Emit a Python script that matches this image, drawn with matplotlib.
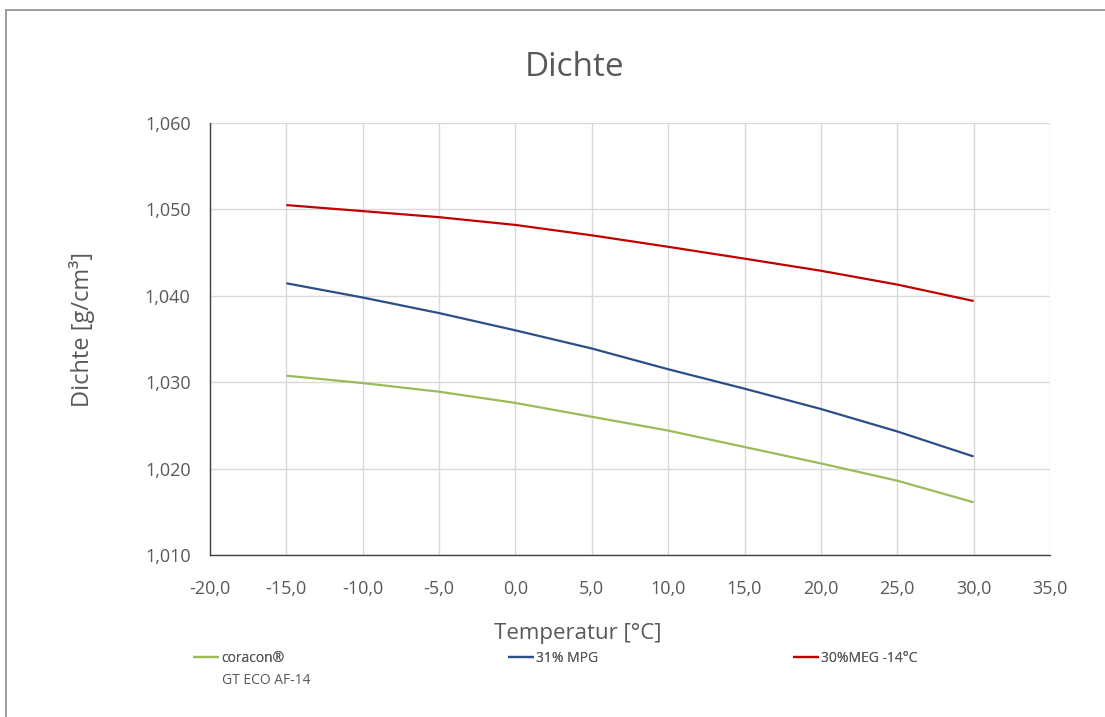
import matplotlib
matplotlib.use("Agg")
import matplotlib.pyplot as plt
from matplotlib.patches import Rectangle
from matplotlib.ticker import FuncFormatter, MultipleLocator

plt.rcParams['font.family'] = ['Open Sans', 'DejaVu Sans']

temperature = [-15, -10, -5, 0, 5, 10, 15, 20, 25, 30]
coracon = [1.03075, 1.0299, 1.0289, 1.0276, 1.0260, 1.0244, 1.0225, 1.0206, 1.0186, 1.0161]
mpg31 = [1.04145, 1.0398, 1.0380, 1.0360, 1.0339, 1.0315, 1.02925, 1.0269, 1.0243, 1.0214]
meg30 = [1.0505, 1.0498, 1.0491, 1.0482, 1.0470, 1.04567, 1.0443, 1.0429, 1.0413, 1.0394]

labels = ["coracon®", "31% MPG", "30%MEG -14°C"]
colors = ["#9BBB59", "#2B4F86", "#C00000"]

W, H = 1105, 717
fig = plt.figure(figsize=(W / 100, H / 100), dpi=100)
ax = fig.add_axes([210 / W, 1 - 555 / H, 840 / W, 432 / H])

txt = "#595959"
series = [coracon, mpg31, meg30]
handles = []
for s, c, l in zip(series, colors, labels):
    h, = ax.plot(temperature, s, color=c, lw=1.6, label=l, solid_capstyle='butt')
    handles.append(h)

ax.set_xlim(-20, 35)
ax.set_ylim(1.010, 1.060)
ax.xaxis.set_major_locator(MultipleLocator(5))
ax.yaxis.set_major_locator(MultipleLocator(0.01))
ax.xaxis.set_major_formatter(FuncFormatter(lambda v, p: f"{v:.1f}".replace(".", ",")))
ax.yaxis.set_major_formatter(FuncFormatter(lambda v, p: f"{v:.3f}".replace(".", ",")))
ax.grid(True, color="#D9D9D9", lw=1)
ax.set_axisbelow(True)
for sp in ["top", "right"]:
    ax.spines[sp].set_visible(False)
for sp in ["left", "bottom"]:
    ax.spines[sp].set_color("#404040")
    ax.spines[sp].set_linewidth(1)
ax.tick_params(length=0, labelsize=13, labelcolor=txt)
ax.tick_params(axis='y', pad=14)
ax.tick_params(axis='x', pad=18)

ax.set_xlabel("Temperatur [°C]", fontsize=16, color=txt)
ax.xaxis.set_label_coords((578 - 210) / 840, (555 - 633) / 432)
ax.set_ylabel("Dichte [g/cm³]", fontsize=17, color=txt)
ax.yaxis.set_label_coords((82 - 210) / 840, (555 - 330) / 432)
ax.xaxis.label.set_va('center')
ax.yaxis.label.set_va('center')

fig.text(575 / W, 1 - 67 / H, "Dichte", fontsize=24, color=txt, ha='center', va='center')

# outer frame
fig.add_artist(Rectangle((6 / W, -0.1), 1.2, 1 - 10 / H + 0.1, transform=fig.transFigure,
                         fill=False, edgecolor="#8C8C8C", lw=1.2))

# legend entries
legx = [193, 508, 793]
for h, x in zip(handles, legx):
    lg = fig.legend(handles=[h], loc='center left', bbox_to_anchor=(x / W, 1 - 658 / H),
                    frameon=False, fontsize=10, handlelength=1.9, handletextpad=0.15,
                    borderpad=0, borderaxespad=0, labelcolor=txt)
    fig.add_artist(lg)
fig.text(222 / W, 1 - 681 / H, "GT ECO AF-14", fontsize=10, color=txt, ha='left', va='center')

fig.savefig("out.png", dpi=100)
